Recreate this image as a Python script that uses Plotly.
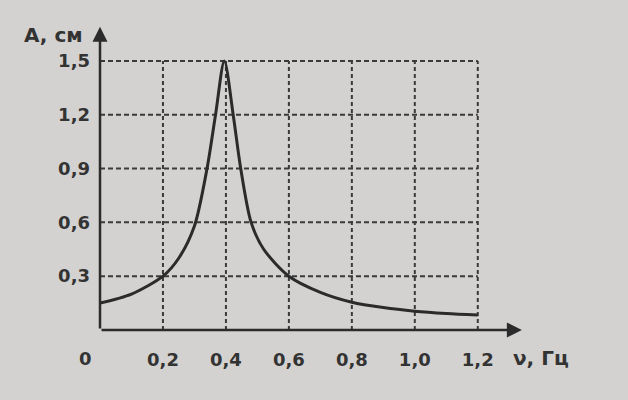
import plotly.graph_objects as go

# data
freq = [0.0, 0.1, 0.2, 0.25, 0.3, 0.34, 0.367, 0.395, 0.423, 0.447, 0.48, 0.52, 0.6, 0.7, 0.8, 0.9, 1.0, 1.1, 1.2]
amp = [0.15, 0.2, 0.3, 0.4, 0.58, 0.9, 1.2, 1.5, 1.2, 0.9, 0.6, 0.45, 0.3, 0.21, 0.155, 0.125, 0.105, 0.092, 0.083]

x_ticks = [0.2, 0.4, 0.6, 0.8, 1.0, 1.2]
x_tick_labels = ["0,2", "0,4", "0,6", "0,8", "1,0", "1,2"]
y_ticks = [0.3, 0.6, 0.9, 1.2, 1.5]
y_tick_labels = ["0,3", "0,6", "0,9", "1,2", "1,5"]
origin_label = "0"
x_title = "ν, Гц"
y_title = "A, см"

ink = "#2b2b2b"
text_col = "#333333"
grid_col = "#3a3a3a"
bg = "#d3d2d0"
font = dict(family="DejaVu Sans", size=18, color=text_col, weight="bold")
title_font = dict(family="DejaVu Sans", size=20, color=text_col, weight="bold")

fig = go.Figure()
fig.add_trace(go.Scatter(x=freq, y=amp, mode="lines",
                         line=dict(color=ink, width=3, shape="spline", smoothing=0.8),
                         hoverinfo="skip", showlegend=False))

shapes = []
for xv in x_ticks:
    shapes.append(dict(type="line", xref="x", yref="y", x0=xv, x1=xv, y0=0, y1=max(y_ticks),
                       line=dict(color=grid_col, width=2, dash="4px,3px"), layer="below"))
for yv in y_ticks:
    shapes.append(dict(type="line", xref="x", yref="y", x0=0, x1=max(x_ticks), y0=yv, y1=yv,
                       line=dict(color=grid_col, width=2, dash="5px,3px"), layer="below"))

annotations = [
    dict(x=1.34, y=0, ax=0, ay=0, xref="x", yref="y", axref="x", ayref="y", text="",
         showarrow=True, arrowhead=2, arrowsize=1.2, arrowwidth=2.5, arrowcolor=ink),
    dict(x=0, y=1.69, ax=0, ay=0, xref="x", yref="y", axref="x", ayref="y", text="",
         showarrow=True, arrowhead=2, arrowsize=1.2, arrowwidth=2.5, arrowcolor=ink),
    dict(x=-0.035, y=-0.092, xref="paper", yref="paper", xanchor="center", yanchor="middle",
         text=origin_label, showarrow=False, font=font),
    dict(x=1.038, y=-0.092, xref="paper", yref="paper", xanchor="center", yanchor="middle",
         text=x_title, showarrow=False, font=title_font),
    dict(x=-0.11, y=0.967, xref="paper", yref="paper", xanchor="center", yanchor="middle",
         text=y_title, showarrow=False, font=title_font),
]

fig.update_layout(
    width=628, height=400,
    margin=dict(l=100, r=103, t=25, b=70),
    paper_bgcolor=bg, plot_bgcolor=bg,
    shapes=shapes, annotations=annotations,
    xaxis=dict(range=[0, 1.35], tickvals=x_ticks, ticktext=x_tick_labels, showgrid=False,
               zeroline=False, showline=False, ticks="", ticklabelstandoff=17, tickfont=font),
    yaxis=dict(range=[0, 1.7], tickvals=y_ticks, ticktext=y_tick_labels, showgrid=False,
               zeroline=False, showline=False, ticks="", ticklabelstandoff=9, tickfont=font),
)

fig.write_html("out.html", config={"displayModeBar": False},
               post_script="document.body.style.margin='0';document.body.style.background='%s';" % bg)
